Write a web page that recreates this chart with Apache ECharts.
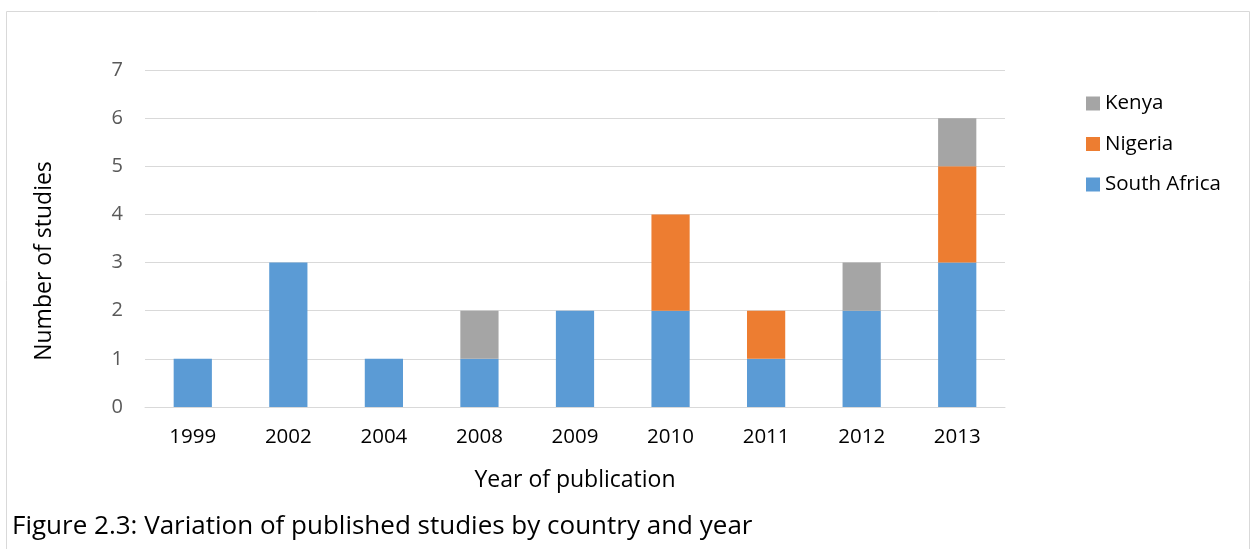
<!DOCTYPE html>
<html><head><meta charset="utf-8">
<script src="https://cdn.jsdelivr.net/npm/echarts@6/dist/echarts.min.js"></script>
<style>html,body{margin:0;padding:0;background:#fff}#c{width:1253px;height:549px}</style>
</head><body><div id="c"></div>
<script>
const years = ['1999','2002','2004','2008','2009','2010','2011','2012','2013'];
const southAfrica = [1,3,1,1,2,2,1,2,3];
const nigeria = [0,0,0,0,0,2,1,0,2];
const kenya = [0,0,0,1,0,0,0,1,1];
const yTicks = [0,1,2,3,4,5,6,7];

const FONT = 'Open Sans';
const chart = echarts.init(document.getElementById('c'));
chart.setOption({
  animation:false,
  textStyle:{fontFamily:FONT},
  graphic:[
    {type:'rect',shape:{x:6.5,y:11.5,width:1243,height:560},style:{fill:'none',stroke:'#d9d9d9',lineWidth:1},silent:true},
    {type:'text',left:12,top:514,style:{text:'Figure 2.3: Variation of published studies by country and year',fontSize:26,fontFamily:FONT,fill:'#000'}},
    {type:'text',x:44,y:261,rotation:Math.PI/2,style:{text:'Number of studies',fontSize:23,fontFamily:FONT,fill:'#000',align:'center',verticalAlign:'middle'}}
  ],
  legend:{
    data:['Kenya','Nigeria','South Africa'],
    orient:'vertical', left:1081, top:88,
    itemWidth:14, itemHeight:14, itemGap:19.5,
    icon:'rect',
    textStyle:{fontSize:20.5,color:'#000',fontFamily:FONT,padding:[0,0,0,0]}
  },
  grid:{left:145,right:248,top:70,bottom:142},
  xAxis:{
    type:'category', data:years,
    axisLine:{lineStyle:{color:'#d9d9d9',width:1}},
    axisTick:{show:false},
    axisLabel:{fontSize:20.5,color:'#000',margin:20,fontFamily:FONT},
    name:'Year of publication', nameLocation:'middle', nameGap:62,
    nameTextStyle:{fontSize:23,color:'#000',fontFamily:FONT}
  },
  yAxis:{
    type:'value', min:0, max:7, interval:1,
    axisLine:{show:false}, axisTick:{show:false},
    splitLine:{lineStyle:{color:'#d9d9d9',width:1}},
    axisLabel:{fontSize:20,color:'#595959',margin:22,fontFamily:FONT,
      formatter:v=>yTicks.includes(v)?String(v):''}
  },
  series:[
    {name:'South Africa',type:'bar',stack:'s',data:southAfrica,barWidth:'40%',itemStyle:{color:'#5B9BD5'}},
    {name:'Nigeria',type:'bar',stack:'s',data:nigeria,barWidth:'40%',itemStyle:{color:'#ED7D31'}},
    {name:'Kenya',type:'bar',stack:'s',data:kenya,barWidth:'40%',itemStyle:{color:'#A5A5A5'}}
  ]
});
</script></body></html>
